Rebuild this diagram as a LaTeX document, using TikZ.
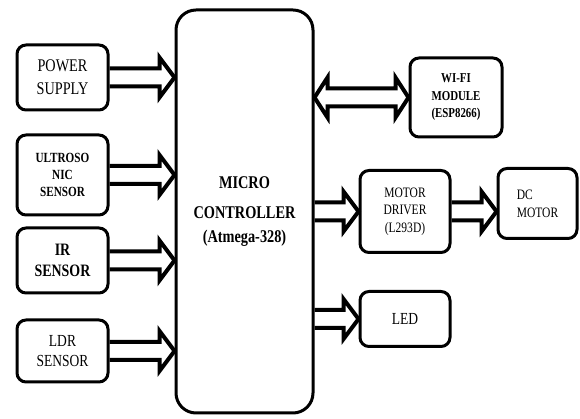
\documentclass[tikz,border=0pt]{standalone}
\usepackage{fontspec}
\setmainfont{Liberation Serif}[FakeStretch=0.8]
\usetikzlibrary{positioning,calc}

% hollow block arrow, #1 = start, #2 = tip
\newcommand{\fatarrow}[2]{%
  \draw[fatline] let \p1=(#1), \p2=(#2) in
    (\x1,\y1+9pt) -- (\x2-15pt,\y1+9pt) -- (\x2-15pt,\y1+20pt) -- (\x2,\y1)
    -- (\x2-15pt,\y1-20pt) -- (\x2-15pt,\y1-9pt) -- (\x1,\y1-9pt);}
% hollow block arrow with heads at both ends
\newcommand{\duplexarrow}[2]{%
  \draw[fatline] let \p1=(#1), \p2=(#2) in
    (\x1,\y1) -- (\x1+13pt,\y1+20pt) -- (\x1+13pt,\y1+9pt) -- (\x2-13pt,\y1+9pt)
    -- (\x2-13pt,\y1+20pt) -- (\x2,\y1) -- (\x2-13pt,\y1-20pt) -- (\x2-13pt,\y1-9pt)
    -- (\x1+13pt,\y1-9pt) -- (\x1+13pt,\y1-20pt) -- cycle;}

\begin{document}
\begin{tikzpicture}[x=1pt, y=1pt,
    blockbox/.style={draw, line width=3pt, rounded corners=9pt, inner sep=0pt, align=center, minimum width=91pt},
    fatline/.style={line width=4pt, line join=miter},
]
\useasboundingbox (0,0) rectangle (580,419);

\node[draw, line width=3pt, rounded corners=20pt, minimum width=137pt, minimum height=403pt,
      align=center, font=\bfseries\fontsize{17.9}{24}\selectfont] (mc) at (244.5,207.5)
      {MICRO\\[6pt]CONTROLLER\\(Atmega-328)};

% inputs
\node[blockbox, minimum height=65pt, font=\fontsize{17.8}{23}\selectfont,
      below left=35pt and 65pt of mc.north west] (ps) {POWER\\SUPPLY};
\node[blockbox, minimum height=80pt, font=\bfseries\fontsize{14}{17}\selectfont,
      below=22pt of ps] (us) {ULTROSO\\NIC\\SENSOR};
\node[blockbox, minimum height=65pt, font=\bfseries\fontsize{17.4}{21}\selectfont,
      below=10pt of us] (ir) {IR\\SENSOR};
\node[blockbox, minimum height=62pt, font=\fontsize{16.9}{20}\selectfont,
      below=24pt of ir] (ldr) {LDR\\SENSOR};

% outputs
\node[blockbox, minimum width=92pt, minimum height=79pt, font=\bfseries\fontsize{13.6}{17.5}\selectfont,
      above right=73pt and 94pt of mc.east] (wifi) {WI-FI\\MODULE\\(ESP8266)};
\node[blockbox, minimum width=90pt, minimum height=82pt, font=\fontsize{14.4}{17.5}\selectfont,
      right=44pt of mc.east] (md) {MOTOR\\DRIVER\\(L293D)};
\node[blockbox, minimum width=79pt, minimum height=70pt, align=left, font=\fontsize{14.4}{18}\selectfont,
      right=45pt of md, yshift=8pt] (dc) {DC\\MOTOR};
\node[blockbox, minimum width=90pt, minimum height=55pt, font=\fontsize{16.9}{16}\selectfont,
      below=36pt of md] (led) {LED};

\fatarrow{ps.east}{ps.east -| mc.west}
\fatarrow{us.east}{us.east -| mc.west}
\fatarrow{ir.east}{ir.east -| mc.west}
\fatarrow{ldr.east}{ldr.east -| mc.west}
\duplexarrow{mc.east |- wifi.west}{wifi.west}
\fatarrow{mc.east |- md.west}{md.west}
\fatarrow{md.east}{md.east -| dc.west}
\fatarrow{mc.east |- led.west}{led.west}
\end{tikzpicture}
\end{document}
